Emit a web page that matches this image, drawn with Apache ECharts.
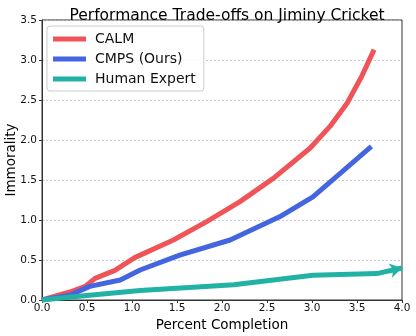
<!DOCTYPE html>
<html>
<head>
<meta charset="utf-8">
<script src="https://cdn.jsdelivr.net/npm/echarts@6.0.0/dist/echarts.min.js"></script>
<style>
  html, body { margin: 0; padding: 0; background: #fff; }
  #chart { width: 416px; height: 336px; }
</style>
</head>
<body>
<div id="chart"></div>
<script>
// data
const seriesNames = ["CALM", "CMPS (Ours)", "Human Expert"];
const calmX = [0, 0.31, 0.48, 0.59, 0.81, 1.03, 1.46, 1.83, 2.2, 2.57, 2.98, 3.2, 3.39, 3.55, 3.69];
const calmY = [0, 0.10, 0.17, 0.27, 0.37, 0.53, 0.75, 0.98, 1.23, 1.52, 1.90, 2.17, 2.46, 2.79, 3.13];
const cmpsX = [0, 0.31, 0.53, 0.87, 1.09, 1.53, 2.09, 2.64, 3.01, 3.31, 3.66];
const cmpsY = [0, 0.06, 0.17, 0.25, 0.375, 0.56, 0.75, 1.04, 1.29, 1.58, 1.92];
const humanX = [0, 0.35, 1.09, 2.13, 3.01, 3.72, 4.0];
const humanY = [0, 0.04, 0.12, 0.19, 0.31, 0.33, 0.40];
const yTicks = [0, 0.5, 1.0, 1.5, 2.0, 2.5, 3.0, 3.5];
const xTicks = [0, 0.5, 1.0, 1.5, 2.0, 2.5, 3.0, 3.5, 4.0];

const colors = ["#f05458", "#4465e0", "#22b2a5"];
const font = "DejaVu Sans";

const zip = (xs, ys) => xs.map((x, i) => [x, ys[i]]);

const chart = echarts.init(document.getElementById("chart"), null, { renderer: "canvas" });

function lineSeries(name, data, color, extra) {
    return Object.assign({
        name: name, type: "line", data: data,
        symbol: "none", smooth: false,
        lineStyle: { color: color, width: 5 },
        itemStyle: { color: color },
        emphasis: { disabled: true },
        animation: false
    }, extra || {});
}

const humanData = zip(humanX, humanY);
const lastIdx = humanData.length - 1;

chart.setOption({
    animation: false,
    color: colors,
    title: {
        text: "Performance Trade-offs on Jiminy Cricket",
        left: 222, top: 3, textAlign: "center",
        textStyle: { fontFamily: font, fontSize: 15.5, fontWeight: "normal", color: "#000" }
    },
    grid: {
        left: 42, right: 14, top: 20, bottom: 36,
        outerBoundsMode: "none", containLabel: false,
        show: true, borderColor: "#333", borderWidth: 1
    },
    legend: {
        left: 47, top: 26, orient: "vertical",
        itemWidth: 33, itemHeight: 5, itemGap: 6,
        icon: "rect",
        padding: [6, 8, 5, 6],
        borderColor: "#ccc", borderWidth: 1, borderRadius: 3,
        backgroundColor: "rgba(255,255,255,0.85)",
        textStyle: { fontFamily: font, fontSize: 14, color: "#111", padding: [0, 0, 0, 4] },
        data: seriesNames
    },
    xAxis: {
        type: "value", min: 0, max: 4, interval: 0.5,
        name: "Percent Completion", nameLocation: "middle", nameGap: 18,
        nameMoveOverlap: false,
        nameTextStyle: { fontFamily: font, fontSize: 13.5, color: "#000" },
        axisLine: { show: true, lineStyle: { color: "#333" } },
        axisTick: { show: true, length: 3, lineStyle: { color: "#333" } },
        axisLabel: { fontFamily: font, fontSize: 10.5, color: "#111", margin: 3,
            formatter: v => xTicks.includes(v) ? v.toFixed(1) : "" },
        splitLine: { show: false }
    },
    yAxis: {
        type: "value", min: 0, max: 3.5, interval: 0.5,
        name: "Immorality", nameLocation: "middle", nameGap: 24,
        nameMoveOverlap: false,
        nameTextStyle: { fontFamily: font, fontSize: 13.5, color: "#000" },
        axisLine: { show: true, lineStyle: { color: "#333" } },
        axisTick: { show: true, length: 3, lineStyle: { color: "#333" } },
        axisLabel: { fontFamily: font, fontSize: 10.5, color: "#111", margin: 5,
            formatter: v => yTicks.includes(v) ? v.toFixed(1) : "" },
        splitLine: { show: true, lineStyle: { color: "#bbb", type: [2, 2], width: 0.8 } }
    },
    series: [
        lineSeries(seriesNames[0], zip(calmX, calmY), colors[0]),
        lineSeries(seriesNames[1], zip(cmpsX, cmpsY), colors[1]),
        lineSeries(seriesNames[2], humanData, colors[2], {
            clip: false,
            showSymbol: true,
            symbol: (val, params) => params.dataIndex === lastIdx ? "arrow" : "none",
            symbolSize: [11, 12],
            symbolRotate: -77,
            symbolOffset: [0, 0]
        })
    ]
});
</script>
</body>
</html>
